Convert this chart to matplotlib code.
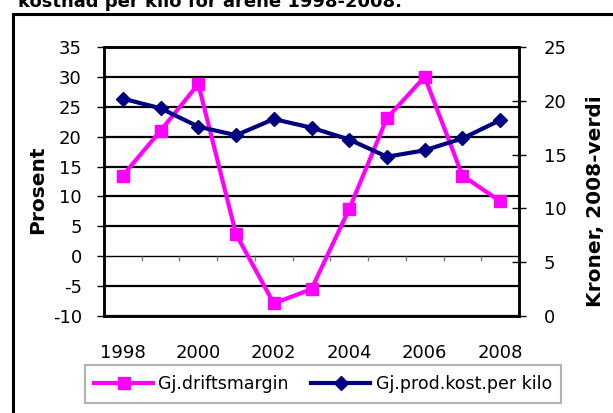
import numpy as np
import matplotlib
matplotlib.use('Agg')
import matplotlib.pyplot as plt
from matplotlib.patches import Rectangle

plt.rcParams['font.family'] = ['DejaVu Sans']
plt.rcParams['axes.unicode_minus'] = False
plt.rcParams['xtick.major.pad'] = 20

years = np.arange(1998, 2009)
driftsmargin = [13.5, 21.0, 28.8, 3.7, -7.9, -5.5, 7.9, 23.1, 30.0, 13.5, 9.2]
prodkost = [20.2, 19.3, 17.6, 16.8, 18.3, 17.5, 16.4, 14.8, 15.4, 16.5, 18.2]
left_ticks = np.arange(-10, 36, 5)
right_ticks = np.arange(0, 26, 5)
year_labels = [str(y) if y % 2 == 0 else '' for y in years]

fs = 13
fig = plt.figure(figsize=(6.13, 4.13), dpi=100)
ax = fig.add_axes([104/613, 1-316/413, 415/613, 269/413])
x = np.arange(len(years))

for t in left_ticks:
    ax.axhline(t, color='black', lw=1.0 if t == 0 else 1.6, zorder=1)
# small tick marks on the zero line between categories
ax.vlines(x[:-1] + 0.5, -0.8, 0, color='#808080', lw=1, zorder=1)

p1, = ax.plot(x, driftsmargin, color='#FF00FF', lw=3, marker='s', ms=9,
              zorder=3, label='Gj.driftsmargin')
ax.set_xlim(-0.5, len(years) - 0.5)
ax.set_ylim(-10, 35)
ax.set_yticks(left_ticks)
ax.set_xticks(x)
ax.set_xticklabels(year_labels, fontsize=fs)
for s in ax.spines.values():
    s.set_linewidth(1.8)

ax2 = ax.twinx()
p2, = ax2.plot(x, prodkost, color='#000080', lw=3, marker='D', ms=7,
               zorder=3, label='Gj.prod.kost.per kilo')
ax2.set_ylim(0, 25)
ax2.set_yticks(right_ticks)
ax2.tick_params(axis='y', direction='inout', length=10, width=1, pad=13, labelsize=fs)
for s in ax2.spines.values():
    s.set_linewidth(1.8)

ax.tick_params(axis='x', length=0, pad=20)
ax.tick_params(axis='y', direction='out', length=5, width=1, pad=11, labelsize=fs)

fig.text(38/613, 1-190/413, 'Prosent', fontsize=14.5, fontweight='bold',
         rotation=90, ha='center', va='center')
fig.text(595/613, 1-201/413, 'Kroner, 2008-verdi', fontsize=14.5, fontweight='bold',
         rotation=90, ha='center', va='center')

leg = fig.legend(handles=[p1, p2], loc='center', bbox_to_anchor=(323/613, 1-384/413),
                 ncol=2, fontsize=12.5, frameon=True, fancybox=False, edgecolor='#a0a0a0',
                 handlelength=3.4, handletextpad=0.3, columnspacing=1.3, borderpad=0.55,
                 borderaxespad=0)
leg.get_frame().set_linewidth(1.5)

fig.text(18/613, 1-7/413, 'kostnad per kilo for årene 1998-2008.', fontsize=13,
         fontweight='bold', ha='left', va='baseline')
fig.patches.append(Rectangle((13/613, -0.1), 1.2, 1.1 - 14/413, transform=fig.transFigure,
                             fill=False, edgecolor='black', lw=2.2))

fig.savefig('out.png', dpi=100)
